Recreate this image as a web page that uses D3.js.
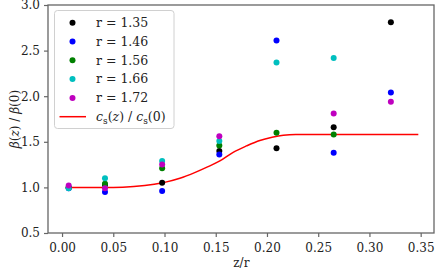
<!DOCTYPE html>
<html>
<head>
<meta charset="utf-8">
<script src="https://cdn.jsdelivr.net/npm/d3@7"></script>
<style>
  body { margin: 0; background: #fff; }
  svg text { font-family: "DejaVu Serif", serif; fill: #222; }
</style>
</head>
<body>
<div id="chart"></div>
<script>
// data
const zValues = [0.0065, 0.0419, 0.0977, 0.1535, 0.2093, 0.2651, 0.3209];
const radii = ['1.35', '1.46', '1.56', '1.66', '1.72'];
const colors = ['#000000', '#0000ff', '#008000', '#00bfbf', '#bf00bf'];
const beta135 = [1.00, 1.03, 1.05, 1.40, 1.43, 1.66, 2.81];
const beta146 = [0.99, 0.95, 0.96, 1.36, 2.61, 1.38, 2.04];
const beta156 = [1.00, 1.04, 1.21, 1.46, 1.60, 1.58, null];
const beta166 = [0.99, 1.10, 1.29, 1.51, 2.37, 2.42, null];
const beta172 = [1.02, 0.99, 1.25, 1.56, null, 1.81, 1.94];
const series = [beta135, beta146, beta156, beta166, beta172];

const csZ = [0.0065, 0.05, 0.07, 0.09, 0.10, 0.115, 0.13, 0.142, 0.154, 0.167, 0.18, 0.193, 0.205, 0.216, 0.228, 0.3477];
const csRatio = [1.0, 1.0, 1.01, 1.035, 1.055, 1.10, 1.165, 1.225, 1.29, 1.385, 1.455, 1.515, 1.55, 1.572, 1.58, 1.58];

const xTicks = [0, 0.05, 0.10, 0.15, 0.20, 0.25, 0.30, 0.35];
const yTicks = [0.5, 1.0, 1.5, 2.0, 2.5, 3.0];

const width = 436, height = 271;
const margin = {left: 48, top: 5, right: 2, bottom: 38};
const innerWidth = width - margin.left - margin.right;
const innerHeight = height - margin.top - margin.bottom;

const xScale = d3.scaleLinear().domain([-0.0137, 0.363]).range([0, innerWidth]);
const yScale = d3.scaleLinear().domain([0.5, 3.0]).range([innerHeight, 0]);

const svg = d3.select('#chart').append('svg')
  .attr('width', width)
  .attr('height', height);

const g = svg.append('g')
  .attr('transform', `translate(${margin.left},${margin.top})`);

// frame
g.append('rect')
  .attr('width', innerWidth)
  .attr('height', innerHeight)
  .attr('fill', 'none')
  .attr('stroke', '#666')
  .attr('stroke-width', 1.3);

const xAxis = d3.axisBottom(xScale)
  .tickValues(xTicks)
  .tickFormat(d3.format('.2f'))
  .tickSize(4)
  .tickPadding(6);

const yAxis = d3.axisLeft(yScale)
  .tickValues(yTicks)
  .tickFormat(d3.format('.1f'))
  .tickSize(4)
  .tickPadding(4);

const xAxisG = g.append('g')
  .attr('transform', `translate(0,${innerHeight})`)
  .call(xAxis);
const yAxisG = g.append('g').call(yAxis);

[xAxisG, yAxisG].forEach(a => {
  a.select('.domain').remove();
  a.selectAll('.tick line').attr('stroke', '#666').attr('stroke-width', 1.2);
  a.selectAll('.tick text').style('font-family', '"DejaVu Serif", serif').style('font-size', '12px').attr('fill', '#222');
});

// axis labels
svg.append('text')
  .attr('x', margin.left + xScale(0.175))
  .attr('y', 267)
  .attr('text-anchor', 'middle')
  .style('font-size', '12px')
  .text('z/r');

const yLab = svg.append('text')
  .attr('transform', `translate(19,${margin.top + innerHeight / 2}) rotate(-90)`)
  .attr('text-anchor', 'middle')
  .style('font-size', '12px');
yLab.append('tspan').attr('font-style', 'italic').text('β');
yLab.append('tspan').text('(');
yLab.append('tspan').attr('font-style', 'italic').text('z');
yLab.append('tspan').text(') / ');
yLab.append('tspan').attr('font-style', 'italic').text('β');
yLab.append('tspan').text('(0)');

// red curve
const line = d3.line()
  .x((d, i) => xScale(csZ[i]))
  .y(d => yScale(d))
  .curve(d3.curveMonotoneX);

g.append('path')
  .attr('d', line(csRatio))
  .attr('fill', 'none')
  .attr('stroke', '#ff0000')
  .attr('stroke-width', 1.5);

// points
series.forEach((vals, si) => {
  g.selectAll('.pt' + si)
    .data(vals.map((v, i) => ({z: zValues[i], v})).filter(d => d.v !== null))
    .enter().append('circle')
    .attr('class', 'pt' + si)
    .attr('cx', d => xScale(d.z))
    .attr('cy', d => yScale(d.v))
    .attr('r', 3)
    .attr('fill', colors[si]);
});

// legend
const leg = svg.append('g');
leg.append('rect')
  .attr('x', 54.5).attr('y', 10.5)
  .attr('width', 119.5).attr('height', 118)
  .attr('rx', 3)
  .attr('fill', 'rgba(255,255,255,0.8)')
  .attr('stroke', '#d0d0d0')
  .attr('stroke-width', 1);

const rowY = i => 22.7 + i * 18.8;
radii.forEach((r, i) => {
  leg.append('circle')
    .attr('cx', 72.5).attr('cy', rowY(i))
    .attr('r', 3)
    .attr('fill', colors[i]);
  leg.append('text')
    .attr('x', 96).attr('y', rowY(i) + 4.3)
    .style('font-size', '12.5px')
    .text('r = ' + r);
});
leg.append('line')
  .attr('x1', 59.5).attr('x2', 86)
  .attr('y1', rowY(5)).attr('y2', rowY(5))
  .attr('stroke', '#ff0000')
  .attr('stroke-width', 1.5);
const lt = leg.append('text')
  .attr('x', 96).attr('y', rowY(5) + 4.3)
  .style('font-size', '12.5px');
lt.append('tspan').attr('font-style', 'italic').text('c');
lt.append('tspan').attr('dy', 2.5).style('font-size', '9px').text('s');
lt.append('tspan').attr('dy', -2.5).text('(');
lt.append('tspan').attr('font-style', 'italic').text('z');
lt.append('tspan').text(') / ');
lt.append('tspan').attr('font-style', 'italic').text('c');
lt.append('tspan').attr('dy', 2.5).style('font-size', '9px').text('s');
lt.append('tspan').attr('dy', -2.5).text('(0)');
</script>
</body>
</html>
